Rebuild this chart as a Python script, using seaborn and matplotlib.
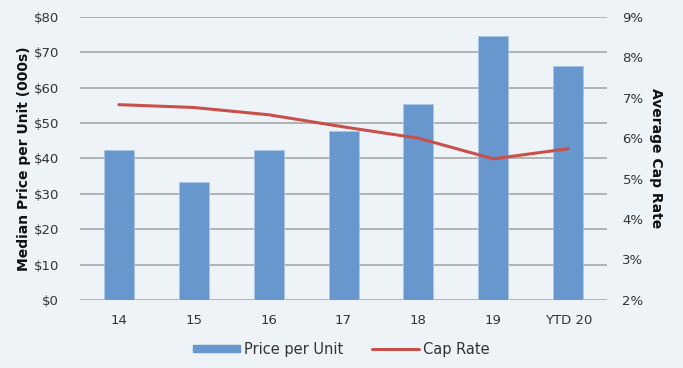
import matplotlib
matplotlib.use('Agg')
import matplotlib.pyplot as plt
from matplotlib.lines import Line2D
from matplotlib.patches import Patch
import pandas as pd
import seaborn as sns

# -----------------------------------------------------------------------
# Data
years = ['14', '15', '16', '17', '18', '19', 'YTD 20']
price_per_unit = [42.4, 33.3, 42.4, 47.7, 55.4, 74.6, 66.1]  # $000s
cap_rate = [6.83, 6.76, 6.58, 6.28, 6.0, 5.49, 5.74]  # %

bg = '#EEF3F8'
bar_color = '#6897CE'
line_color = '#C9504A'
text_color = '#333333'

sns.set_theme(style='white')
plt.rcParams['font.family'] = ['DejaVu Sans Condensed', 'Liberation Sans Narrow',
                               'DejaVu Sans']

frame = pd.DataFrame({'Year': years, 'Price': price_per_unit, 'Cap': cap_rate})

fig = plt.figure(figsize=(6.83, 3.68), dpi=100, facecolor=bg)
ax = fig.add_axes([0.117, 0.185, 0.772, 0.769])
ax.set_facecolor(bg)

sns.barplot(data=frame, x='Year', y='Price', color=bar_color, width=0.4,
            saturation=1, edgecolor='#A9C4E6', linewidth=0.6, ax=ax, zorder=3)

ax.set_ylim(0, 80)
ax.set_yticks(range(0, 81, 10))
ax.set_yticklabels([f'${v}' for v in range(0, 81, 10)])
ax.grid(axis='y', color='#A0A0A0', linewidth=1.1, zorder=0)
ax.set_axisbelow(True)
ax.set_xlabel('')
ax.set_ylabel('Median Price per Unit (000s)', fontsize=10, fontweight='bold',
              color='#111111', labelpad=2)
ax.tick_params(axis='y', length=0, labelsize=9.5, colors=text_color, pad=15)
ax.tick_params(axis='x', length=0, labelsize=9.5, colors=text_color, pad=10)
for s in ax.spines.values():
    s.set_visible(False)

ax2 = ax.twinx()
sns.lineplot(data=frame, x='Year', y='Cap', color=line_color, linewidth=2.2,
             ax=ax2, zorder=4)
ax2.set_ylim(2, 9)
ax2.set_yticks(range(2, 10))
ax2.set_yticklabels([f'{v}%' for v in range(2, 10)])
ax2.set_ylabel('Average Cap Rate', fontsize=10, fontweight='bold', color='#111111',
               rotation=270, labelpad=14)
ax2.tick_params(axis='y', length=0, labelsize=9.5, colors=text_color, pad=11)
ax2.grid(False)
for s in ax2.spines.values():
    s.set_visible(False)

handles = [Patch(color=bar_color, label='Price per Unit'),
           Line2D([0], [0], color=line_color, linewidth=2.2, label='Cap Rate')]
fig.legend(handles=handles, loc='lower center', ncol=2, frameon=False,
           fontsize=10.5, bbox_to_anchor=(0.5, -0.005), handlelength=3.2,
           handleheight=0.35, columnspacing=2.0, handletextpad=0.3,
           labelcolor=text_color)

fig.savefig('out.png', dpi=100, facecolor=bg)
